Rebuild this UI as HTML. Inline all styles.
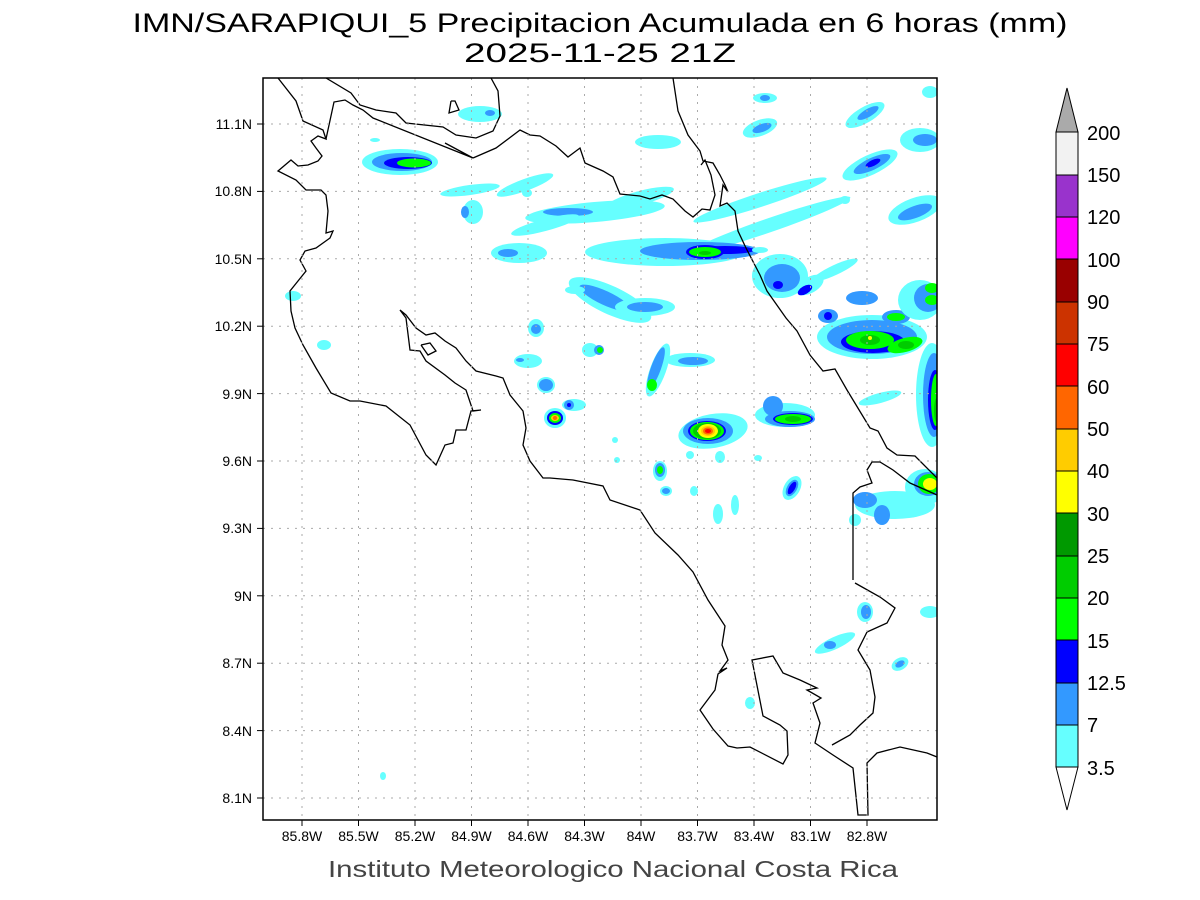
<!DOCTYPE html>
<html><head><meta charset="utf-8"><style>body{margin:0;background:#fff}svg{display:block}</style></head>
<body>
<svg width="1200" height="900" viewBox="0 0 1200 900" xmlns="http://www.w3.org/2000/svg" font-family="Liberation Sans, sans-serif">
<rect width="1200" height="900" fill="#fff"/>
<text x="600" y="32" font-size="27" text-anchor="middle" textLength="935" lengthAdjust="spacingAndGlyphs">IMN/SARAPIQUI_5 Precipitacion Acumulada en 6 horas (mm)</text>
<text x="600" y="62" font-size="27" text-anchor="middle" textLength="272" lengthAdjust="spacingAndGlyphs">2025-11-25 21Z</text>
<defs><clipPath id="c"><rect x="263" y="78" width="674" height="742"/></clipPath></defs>
<g clip-path="url(#c)">
<g>
<ellipse cx="400" cy="162" rx="38" ry="13" fill="#66ffff"/>
<ellipse cx="402" cy="162" rx="30" ry="9" fill="#3399ff"/>
<ellipse cx="408" cy="163" rx="24" ry="6" fill="#0000ff"/>
<ellipse cx="414" cy="163" rx="17" ry="4.5" fill="#00ff00"/>
<ellipse cx="480" cy="114" rx="22" ry="8" fill="#66ffff"/>
<ellipse cx="490" cy="113" rx="5" ry="3" fill="#3399ff"/>
<ellipse cx="470" cy="190" rx="30" ry="5" fill="#66ffff" transform="rotate(-8 470 190)"/>
<ellipse cx="525" cy="185" rx="30" ry="6" fill="#66ffff" transform="rotate(-20 525 185)"/>
<ellipse cx="473" cy="212" rx="10" ry="12" fill="#66ffff"/>
<ellipse cx="465" cy="212" rx="4" ry="6" fill="#3399ff"/>
<ellipse cx="595" cy="212" rx="70" ry="10" fill="#66ffff" transform="rotate(-5 595 212)"/>
<ellipse cx="568" cy="212" rx="25" ry="4" fill="#3399ff"/>
<ellipse cx="519" cy="253" rx="28" ry="10" fill="#66ffff"/>
<ellipse cx="508" cy="253" rx="10" ry="4" fill="#3399ff"/>
<ellipse cx="545" cy="225" rx="35" ry="6" fill="#66ffff" transform="rotate(-15 545 225)"/>
<ellipse cx="640" cy="198" rx="35" ry="7" fill="#66ffff" transform="rotate(-15 640 198)"/>
<ellipse cx="658" cy="142" rx="23" ry="7" fill="#66ffff"/>
<ellipse cx="760" cy="200" rx="70" ry="7" fill="#66ffff" transform="rotate(-18 760 200)"/>
<ellipse cx="770" cy="225" rx="85" ry="7" fill="#66ffff" transform="rotate(-19 770 225)"/>
<ellipse cx="760" cy="128" rx="18" ry="8" fill="#66ffff" transform="rotate(-20 760 128)"/>
<ellipse cx="762" cy="128" rx="10" ry="4" fill="#3399ff" transform="rotate(-20 762 128)"/>
<ellipse cx="765" cy="98" rx="12" ry="5" fill="#66ffff"/>
<ellipse cx="765" cy="98" rx="5" ry="3" fill="#3399ff"/>
<ellipse cx="865" cy="115" rx="22" ry="8" fill="#66ffff" transform="rotate(-30 865 115)"/>
<ellipse cx="868" cy="113" rx="12" ry="4" fill="#3399ff" transform="rotate(-30 868 113)"/>
<ellipse cx="870" cy="165" rx="30" ry="10" fill="#66ffff" transform="rotate(-25 870 165)"/>
<ellipse cx="872" cy="164" rx="20" ry="6" fill="#3399ff" transform="rotate(-25 872 164)"/>
<ellipse cx="873" cy="163" rx="8" ry="3" fill="#0000ff" transform="rotate(-25 873 163)"/>
<ellipse cx="915" cy="210" rx="28" ry="12" fill="#66ffff" transform="rotate(-20 915 210)"/>
<ellipse cx="915" cy="212" rx="18" ry="6" fill="#3399ff" transform="rotate(-20 915 212)"/>
<ellipse cx="920" cy="140" rx="20" ry="12" fill="#66ffff"/>
<ellipse cx="925" cy="140" rx="12" ry="6" fill="#3399ff"/>
<ellipse cx="930" cy="92" rx="8" ry="6" fill="#66ffff"/>
<ellipse cx="845" cy="200" rx="5" ry="4" fill="#66ffff"/>
<ellipse cx="665" cy="252" rx="80" ry="14" fill="#66ffff"/>
<ellipse cx="700" cy="251" rx="60" ry="9" fill="#3399ff"/>
<ellipse cx="725" cy="250" rx="30" ry="4" fill="#0000ff"/>
<ellipse cx="705" cy="252" rx="19" ry="7" fill="#0000ff"/>
<ellipse cx="705" cy="252" rx="16" ry="5" fill="#00ff00"/>
<ellipse cx="705" cy="253" rx="6" ry="2" fill="#00cc00"/>
<ellipse cx="780" cy="276" rx="28" ry="22" fill="#66ffff"/>
<ellipse cx="782" cy="278" rx="18" ry="14" fill="#3399ff"/>
<ellipse cx="778" cy="285" rx="5" ry="4" fill="#0000ff"/>
<ellipse cx="810" cy="285" rx="15" ry="8" fill="#66ffff" transform="rotate(-30 810 285)"/>
<ellipse cx="805" cy="290" rx="8" ry="4" fill="#0000ff" transform="rotate(-30 805 290)"/>
<ellipse cx="835" cy="270" rx="25" ry="5" fill="#66ffff" transform="rotate(-25 835 270)"/>
<ellipse cx="760" cy="250" rx="8" ry="3" fill="#66ffff"/>
<ellipse cx="610" cy="300" rx="45" ry="14" fill="#66ffff" transform="rotate(25 610 300)"/>
<ellipse cx="605" cy="298" rx="28" ry="7" fill="#3399ff" transform="rotate(25 605 298)"/>
<ellipse cx="645" cy="307" rx="30" ry="9" fill="#66ffff"/>
<ellipse cx="645" cy="307" rx="18" ry="5" fill="#3399ff"/>
<ellipse cx="575" cy="290" rx="10" ry="4" fill="#66ffff"/>
<ellipse cx="872" cy="337" rx="55" ry="22" fill="#66ffff"/>
<ellipse cx="872" cy="337" rx="45" ry="17" fill="#3399ff"/>
<ellipse cx="873" cy="342" rx="32" ry="11" fill="#0000ff"/>
<ellipse cx="870" cy="340" rx="24" ry="9" fill="#00ff00"/>
<ellipse cx="905" cy="345" rx="18" ry="7" fill="#00ff00" transform="rotate(-15 905 345)"/>
<ellipse cx="870" cy="340" rx="10" ry="5" fill="#00cc00"/>
<ellipse cx="906" cy="345" rx="8" ry="4" fill="#00cc00"/>
<ellipse cx="870" cy="338" rx="2" ry="2" fill="#ffff00"/>
<ellipse cx="896" cy="317" rx="14" ry="7" fill="#3399ff"/>
<ellipse cx="896" cy="317" rx="9" ry="4" fill="#00ff00"/>
<ellipse cx="828" cy="316" rx="10" ry="7" fill="#3399ff"/>
<ellipse cx="828" cy="316" rx="4" ry="4" fill="#0000ff"/>
<ellipse cx="862" cy="298" rx="16" ry="7" fill="#3399ff"/>
<ellipse cx="920" cy="300" rx="22" ry="20" fill="#66ffff"/>
<ellipse cx="928" cy="298" rx="14" ry="14" fill="#3399ff"/>
<ellipse cx="932" cy="288" rx="7" ry="5" fill="#00ff00"/>
<ellipse cx="932" cy="300" rx="7" ry="5" fill="#00ff00"/>
<ellipse cx="932" cy="395" rx="16" ry="52" fill="#66ffff"/>
<ellipse cx="934" cy="395" rx="11" ry="42" fill="#3399ff"/>
<ellipse cx="935" cy="400" rx="7" ry="30" fill="#0000ff"/>
<ellipse cx="936" cy="400" rx="5" ry="26" fill="#00ff00"/>
<ellipse cx="937" cy="410" rx="3" ry="12" fill="#00cc00"/>
<ellipse cx="880" cy="398" rx="22" ry="5" fill="#66ffff" transform="rotate(-15 880 398)"/>
<ellipse cx="658" cy="370" rx="8" ry="28" fill="#66ffff" transform="rotate(20 658 370)"/>
<ellipse cx="656" cy="368" rx="5" ry="22" fill="#3399ff" transform="rotate(20 656 368)"/>
<ellipse cx="652" cy="385" rx="5" ry="6" fill="#00ff00"/>
<ellipse cx="690" cy="360" rx="25" ry="7" fill="#66ffff"/>
<ellipse cx="693" cy="361" rx="15" ry="4" fill="#3399ff"/>
<ellipse cx="713" cy="431" rx="35" ry="17" fill="#66ffff" transform="rotate(-10 713 431)"/>
<ellipse cx="708" cy="431" rx="25" ry="13" fill="#3399ff"/>
<ellipse cx="707" cy="431" rx="19" ry="10" fill="#0000ff"/>
<ellipse cx="707" cy="431" rx="17" ry="9" fill="#00ff00"/>
<ellipse cx="707" cy="431" rx="14" ry="8" fill="#00cc00"/>
<ellipse cx="708" cy="431" rx="10" ry="7" fill="#ffff00"/>
<ellipse cx="708" cy="431" rx="7" ry="5" fill="#ffcc00"/>
<ellipse cx="708" cy="431" rx="5" ry="3.5" fill="#ff6600"/>
<ellipse cx="708" cy="431" rx="3" ry="2" fill="#ff0000"/>
<ellipse cx="785" cy="415" rx="30" ry="12" fill="#66ffff"/>
<ellipse cx="773" cy="406" rx="10" ry="10" fill="#3399ff"/>
<ellipse cx="790" cy="419" rx="25" ry="8" fill="#3399ff"/>
<ellipse cx="793" cy="419" rx="20" ry="6" fill="#0000ff"/>
<ellipse cx="793" cy="419" rx="18" ry="5" fill="#00ff00"/>
<ellipse cx="793" cy="419" rx="8" ry="3" fill="#00cc00"/>
<ellipse cx="590" cy="350" rx="8" ry="7" fill="#66ffff"/>
<ellipse cx="599" cy="350" rx="5" ry="5" fill="#3399ff"/>
<ellipse cx="600" cy="350" rx="3" ry="3" fill="#00ff00"/>
<ellipse cx="536" cy="328" rx="8" ry="9" fill="#66ffff"/>
<ellipse cx="536" cy="329" rx="5" ry="5" fill="#3399ff"/>
<ellipse cx="528" cy="361" rx="14" ry="7" fill="#66ffff"/>
<ellipse cx="520" cy="360" rx="4" ry="2" fill="#3399ff"/>
<ellipse cx="546" cy="385" rx="8" ry="7" fill="#3399ff" stroke="#66ffff" stroke-width="2"/>
<ellipse cx="555" cy="418" rx="11" ry="10" fill="#66ffff"/>
<ellipse cx="555" cy="418" rx="8" ry="7" fill="#0000ff"/>
<ellipse cx="555" cy="418" rx="6" ry="5" fill="#00ff00"/>
<ellipse cx="555" cy="418" rx="4" ry="3" fill="#ffcc00"/>
<ellipse cx="555" cy="418" rx="2" ry="2" fill="#ff6600"/>
<ellipse cx="574" cy="405" rx="12" ry="6" fill="#66ffff"/>
<ellipse cx="569" cy="405" rx="5" ry="5" fill="#3399ff"/>
<ellipse cx="569" cy="405" rx="2" ry="2" fill="#0000ff"/>
<ellipse cx="660" cy="471" rx="7" ry="10" fill="#66ffff"/>
<ellipse cx="660" cy="470" rx="5" ry="7" fill="#3399ff"/>
<ellipse cx="660" cy="470" rx="3" ry="4" fill="#00ff00"/>
<ellipse cx="694" cy="491" rx="4" ry="5" fill="#66ffff"/>
<ellipse cx="666" cy="491" rx="5" ry="4" fill="#3399ff" stroke="#66ffff" stroke-width="2"/>
<ellipse cx="735" cy="505" rx="4" ry="10" fill="#66ffff"/>
<ellipse cx="718" cy="514" rx="5" ry="10" fill="#66ffff"/>
<ellipse cx="792" cy="488" rx="8" ry="13" fill="#66ffff" transform="rotate(30 792 488)"/>
<ellipse cx="792" cy="488" rx="4" ry="8" fill="#0000ff" stroke="#3399ff" stroke-width="2" transform="rotate(30 792 488)"/>
<ellipse cx="758" cy="458" rx="4" ry="3" fill="#66ffff"/>
<ellipse cx="615" cy="440" rx="3" ry="3" fill="#66ffff"/>
<ellipse cx="617" cy="460" rx="3" ry="3" fill="#66ffff"/>
<ellipse cx="690" cy="455" rx="4" ry="4" fill="#66ffff"/>
<ellipse cx="720" cy="457" rx="5" ry="6" fill="#66ffff"/>
<ellipse cx="925" cy="487" rx="20" ry="18" fill="#66ffff"/>
<ellipse cx="928" cy="484" rx="14" ry="12" fill="#3399ff"/>
<ellipse cx="929" cy="484" rx="11" ry="10" fill="#00ff00"/>
<ellipse cx="930" cy="484" rx="7" ry="6" fill="#ffff00"/>
<ellipse cx="895" cy="505" rx="40" ry="14" fill="#66ffff"/>
<ellipse cx="865" cy="500" rx="12" ry="8" fill="#3399ff"/>
<ellipse cx="882" cy="515" rx="8" ry="10" fill="#3399ff"/>
<ellipse cx="855" cy="520" rx="6" ry="6" fill="#66ffff"/>
<ellipse cx="865" cy="612" rx="8" ry="10" fill="#66ffff"/>
<ellipse cx="866" cy="612" rx="5" ry="7" fill="#3399ff"/>
<ellipse cx="835" cy="643" rx="22" ry="6" fill="#66ffff" transform="rotate(-25 835 643)"/>
<ellipse cx="830" cy="645" rx="6" ry="4" fill="#3399ff"/>
<ellipse cx="900" cy="664" rx="9" ry="6" fill="#66ffff" transform="rotate(-30 900 664)"/>
<ellipse cx="900" cy="664" rx="5" ry="3" fill="#3399ff" transform="rotate(-30 900 664)"/>
<ellipse cx="930" cy="612" rx="10" ry="6" fill="#66ffff"/>
<ellipse cx="750" cy="703" rx="5" ry="6" fill="#66ffff"/>
<ellipse cx="293" cy="296" rx="8" ry="5" fill="#66ffff"/>
<ellipse cx="324" cy="345" rx="7" ry="5" fill="#66ffff"/>
<ellipse cx="383" cy="776" rx="3" ry="4" fill="#66ffff"/>
<ellipse cx="527" cy="193" rx="5" ry="4" fill="#66ffff"/>
<ellipse cx="375" cy="140" rx="5" ry="2" fill="#66ffff"/>
</g>
<g fill="none" stroke="#000" stroke-width="1.3">
<polyline points="278,78 296,101 303,121 323,130 326,139 318,136 311,141 316,148 322,156 318,161 308,165 298,166 291,160 278,171 296,180 306,190 321,190 326,195 328,211 326,233 333,231 330,238 316,248 305,251 300,260 306,271 298,281 290,291 291,311 295,328 303,345 316,368 331,393 350,401 360,401 386,406 410,425 426,455 436,465 445,445 453,443 456,430 466,430 471,411 481,410 473,411 466,390 455,383 445,375 426,361 420,351 410,350 406,318 400,310 406,315 416,328 426,335 435,333 445,341 456,348 466,361 476,371 496,376 503,378 510,395 523,411 526,428 523,445 530,461 543,478 550,478 573,480 603,486 610,500 640,510 655,533 678,555 693,572 708,600 725,626 722,645 728,660 720,671 727,668 718,674 715,690 700,710 713,729 728,746 737,748 750,747 783,764 788,755 787,731 780,725 763,716 752,660 773,656 783,673 800,680 817,688 807,690 821,698 813,703 820,723 815,743 833,755 853,768 858,815 868,815 867,763 877,753 900,747 927,753 937,757"/>
<polyline points="853,580 853,493 860,487 872,483 867,470 872,462 880,462 893,470 910,483 937,495"/>
<polyline points="832,745 850,735 860,725 873,713 875,697 870,670 858,650 867,632 887,623 895,608 880,597 855,583"/>
<polyline points="326,139 334,102 345,100 353,105 363,110 373,118 473,158 445,143"/>
<polyline points="326,78 351,93 360,105 376,110 396,113 406,123 443,127 456,135 476,138 493,131 500,116 498,91 491,78"/>
<polyline points="473,158 496,148 520,130 530,135 540,136 556,146 568,157 580,148 585,163 603,171 613,177 620,194 630,195 640,196 650,199 662,195 673,199 685,211 693,217 702,209 710,210 715,195 711,175 705,160 701,165"/>
<polyline points="673,78 678,111 688,135 700,151 703,161 713,163 720,175 725,185 728,192 723,185 720,206 727,203 735,211 738,231 746,248 760,275 767,291 786,318 797,331 810,355 823,371 835,369 847,390 870,428 878,431 887,448 897,455 915,456 937,478"/>
<polyline points="451,101 455,101 459,110 449,113 451,101" />
<polyline points="421,345 430,343 436,351 428,355 421,345"/>
</g>
<g stroke="#aaa" stroke-width="1" stroke-dasharray="2,6">
<line x1="302" y1="78" x2="302" y2="820"/><line x1="358.5" y1="78" x2="358.5" y2="820"/><line x1="415" y1="78" x2="415" y2="820"/><line x1="471.5" y1="78" x2="471.5" y2="820"/><line x1="528" y1="78" x2="528" y2="820"/><line x1="584.5" y1="78" x2="584.5" y2="820"/><line x1="641" y1="78" x2="641" y2="820"/><line x1="697.5" y1="78" x2="697.5" y2="820"/><line x1="754" y1="78" x2="754" y2="820"/><line x1="810.5" y1="78" x2="810.5" y2="820"/><line x1="867" y1="78" x2="867" y2="820"/>
<line x1="263" y1="124" x2="937" y2="124"/><line x1="263" y1="191.4" x2="937" y2="191.4"/><line x1="263" y1="258.8" x2="937" y2="258.8"/><line x1="263" y1="326.2" x2="937" y2="326.2"/><line x1="263" y1="393.6" x2="937" y2="393.6"/><line x1="263" y1="461" x2="937" y2="461"/><line x1="263" y1="528.4" x2="937" y2="528.4"/><line x1="263" y1="595.8" x2="937" y2="595.8"/><line x1="263" y1="663.2" x2="937" y2="663.2"/><line x1="263" y1="730.6" x2="937" y2="730.6"/><line x1="263" y1="798" x2="937" y2="798"/>
</g>
</g>
<rect x="263" y="78" width="674" height="742" fill="none" stroke="#000" stroke-width="1.5"/>
<g stroke="#000"><line x1="257" y1="124" x2="263" y2="124"/><line x1="257" y1="191.4" x2="263" y2="191.4"/><line x1="257" y1="258.8" x2="263" y2="258.8"/><line x1="257" y1="326.2" x2="263" y2="326.2"/><line x1="257" y1="393.6" x2="263" y2="393.6"/><line x1="257" y1="461" x2="263" y2="461"/><line x1="257" y1="528.4" x2="263" y2="528.4"/><line x1="257" y1="595.8" x2="263" y2="595.8"/><line x1="257" y1="663.2" x2="263" y2="663.2"/><line x1="257" y1="730.6" x2="263" y2="730.6"/><line x1="257" y1="798" x2="263" y2="798"/>
<line x1="302" y1="820" x2="302" y2="826"/><line x1="358.5" y1="820" x2="358.5" y2="826"/><line x1="415" y1="820" x2="415" y2="826"/><line x1="471.5" y1="820" x2="471.5" y2="826"/><line x1="528" y1="820" x2="528" y2="826"/><line x1="584.5" y1="820" x2="584.5" y2="826"/><line x1="641" y1="820" x2="641" y2="826"/><line x1="697.5" y1="820" x2="697.5" y2="826"/><line x1="754" y1="820" x2="754" y2="826"/><line x1="810.5" y1="820" x2="810.5" y2="826"/><line x1="867" y1="820" x2="867" y2="826"/></g>
<g font-size="14" text-anchor="end">
<text x="252" y="129">11.1N</text><text x="252" y="196">10.8N</text><text x="252" y="264">10.5N</text><text x="252" y="331">10.2N</text><text x="252" y="399">9.9N</text><text x="252" y="466">9.6N</text><text x="252" y="533">9.3N</text><text x="252" y="601">9N</text><text x="252" y="668">8.7N</text><text x="252" y="736">8.4N</text><text x="252" y="803">8.1N</text>
</g>
<g font-size="14" text-anchor="middle">
<text x="302" y="841">85.8W</text><text x="358.5" y="841">85.5W</text><text x="415" y="841">85.2W</text><text x="471.5" y="841">84.9W</text><text x="528" y="841">84.6W</text><text x="584.5" y="841">84.3W</text><text x="641" y="841">84W</text><text x="697.5" y="841">83.7W</text><text x="754" y="841">83.4W</text><text x="810.5" y="841">83.1W</text><text x="867" y="841">82.8W</text>
</g>
<text x="613" y="877" font-size="23" text-anchor="middle" fill="#444" textLength="570" lengthAdjust="spacingAndGlyphs">Instituto Meteorologico Nacional Costa Rica</text>
<g stroke="#000" stroke-width="1">
<polygon points="1056,132 1078,132 1067,88" fill="#aaaaaa"/>
<rect x="1056" y="132" width="22" height="43" fill="#f2f2f2"/>
<rect x="1056" y="175" width="22" height="42" fill="#9933cc"/>
<rect x="1056" y="217" width="22" height="42" fill="#ff00ff"/>
<rect x="1056" y="259" width="22" height="43" fill="#990000"/>
<rect x="1056" y="302" width="22" height="42" fill="#cc3300"/>
<rect x="1056" y="344" width="22" height="42" fill="#ff0000"/>
<rect x="1056" y="386" width="22" height="43" fill="#ff6600"/>
<rect x="1056" y="429" width="22" height="42" fill="#ffcc00"/>
<rect x="1056" y="471" width="22" height="42" fill="#ffff00"/>
<rect x="1056" y="513" width="22" height="43" fill="#009900"/>
<rect x="1056" y="556" width="22" height="42" fill="#00cc00"/>
<rect x="1056" y="598" width="22" height="42" fill="#00ff00"/>
<rect x="1056" y="640" width="22" height="43" fill="#0000ff"/>
<rect x="1056" y="683" width="22" height="42" fill="#3399ff"/>
<rect x="1056" y="725" width="22" height="42" fill="#66ffff"/>
<polygon points="1056,767 1078,767 1067,810" fill="#fff"/>
</g>
<g font-size="20">
<text x="1087" y="140">200</text><text x="1087" y="182">150</text><text x="1087" y="224">120</text><text x="1087" y="267">100</text><text x="1087" y="309">90</text><text x="1087" y="351">75</text><text x="1087" y="394">60</text><text x="1087" y="436">50</text><text x="1087" y="478">40</text><text x="1087" y="521">30</text><text x="1087" y="563">25</text><text x="1087" y="605">20</text><text x="1087" y="648">15</text><text x="1087" y="690">12.5</text><text x="1087" y="732">7</text><text x="1087" y="775">3.5</text>
</g>
</svg>
</body></html>
